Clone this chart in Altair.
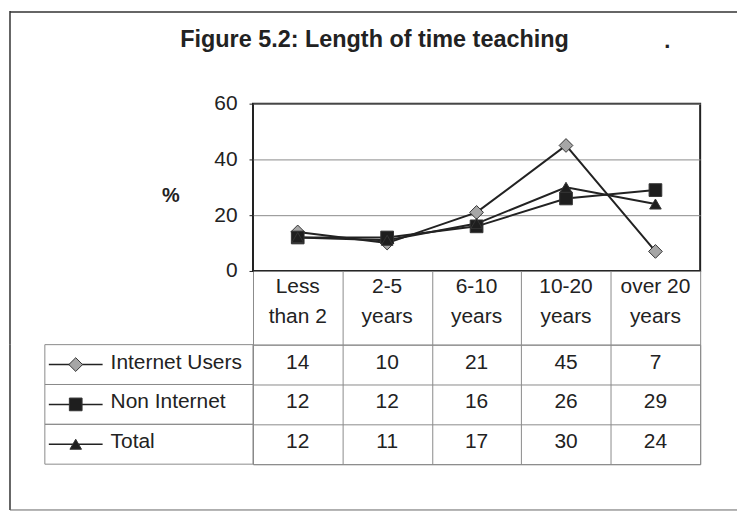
import altair as alt
import pandas as pd

# ---- data ----
header_line1 = ["Less", "2-5", "6-10", "10-20", "over 20"]
header_line2 = ["than 2", "years", "years", "years", "years"]
categories = [a + " " + b for a, b in zip(header_line1, header_line2)]
series = ["Internet Users", "Non Internet", "Total"]
internet_users = [14, 10, 21, 45, 7]
non_internet = [12, 12, 16, 26, 29]
total = [12, 11, 17, 30, 24]
y_ticks = [0, 20, 40, 60]
title_text = "Figure 5.2: Length of time teaching"

shapes = ["diamond", "square", "triangle-up"]
fills = ["#a6a6a6", "#1e1e1e", "#1e1e1e"]
sizes = [190, 135, 175]

rows = []
for s, vals in zip(series, [internet_users, non_internet, total]):
    for c, v in zip(categories, vals):
        rows.append({"series": s, "cat": c, "value": v})
df = pd.DataFrame(rows)
header_df = pd.DataFrame({"cat": categories, "l1": header_line1, "l2": header_line2})
series_df = pd.DataFrame({"series": series})
title_df = pd.DataFrame({"title": [title_text]})
one = pd.DataFrame({"k": [0]})

FONT = "Liberation Sans"
TXT = "#222222"
GRID = "#8a8a8a"
PW, PH = 449, 168

band = alt.Scale(type="band", paddingInner=0, paddingOuter=0)
shape_scale = alt.Scale(domain=series, range=shapes)
fill_scale = alt.Scale(domain=series, range=fills)
size_scale = alt.Scale(domain=series, range=sizes)

x_axis_top = alt.Axis(
    title=None, domain=False, grid=False, ticks=True, tickBand="extent",
    tickSize=74, tickColor=GRID, tickWidth=1, labels=False,
)
x_top = alt.X("cat:N", sort=categories, scale=band, bandPosition=0.5, axis=x_axis_top)
y_top = alt.Y(
    "value:Q", scale=alt.Scale(domain=[0, 60], nice=False),
    axis=alt.Axis(
        values=y_ticks, grid=True, gridColor=GRID, gridWidth=1,
        domain=False, tickSize=4, tickColor=TXT, tickWidth=1,
        labelFontSize=21, labelColor=TXT, labelFont=FONT, labelPadding=12,
        title="%", titleAngle=0, titleFontSize=20, titleFontWeight="bold",
        titleColor=TXT, titleFont=FONT, titleX=-83, titleY=92,
        titleAlign="center", titleBaseline="middle",
    ),
)

lines = alt.Chart(df).mark_line(stroke=TXT, strokeWidth=2).encode(
    x=x_top, y=y_top, detail="series:N"
)
points = alt.Chart(df).mark_point(filled=True, stroke="#333333", strokeWidth=1, opacity=1).encode(
    x=x_top, y=y_top,
    shape=alt.Shape("series:N", scale=shape_scale, legend=None),
    fill=alt.Fill("series:N", scale=fill_scale, legend=None),
    size=alt.Size("series:N", scale=size_scale, legend=None),
)
head1 = alt.Chart(header_df).mark_text(
    fontSize=21, font=FONT, color=TXT, baseline="middle"
).encode(x=x_top, y=alt.value(PH + 16), text="l1:N")
head2 = alt.Chart(header_df).mark_text(
    fontSize=21, font=FONT, color=TXT, baseline="middle"
).encode(x=x_top, y=alt.value(PH + 46), text="l2:N")

# figure title, stray dot and upper part of the outer frame
title_mark = alt.Chart(title_df).mark_text(
    font=FONT, fontSize=23.5, fontWeight="bold", color=TXT, align="center", baseline="middle"
).encode(x=alt.value(122), y=alt.value(-64), text="title:N")
stray_dot = alt.Chart(one).mark_text(
    text=".", fontSize=22, fontWeight="bold", font=FONT, color=TXT, baseline="alphabetic"
).encode(x=alt.value(416), y=alt.value(-56))
frame_left_top = alt.Chart(one).mark_rule(stroke="#333333", strokeWidth=1.5).encode(
    x=alt.value(-244), x2=alt.value(-244), y=alt.value(-93), y2=alt.value(242)
)
frame_top = alt.Chart(one).mark_rule(stroke="#333333", strokeWidth=1.5).encode(
    x=alt.value(-244), x2=alt.value(486), y=alt.value(-92), y2=alt.value(-92)
)

top = alt.layer(
    lines, points, head1, head2, title_mark, stray_dot, frame_left_top, frame_top
).properties(
    width=PW, height=PH,
    view=alt.ViewBackground(stroke=TXT, strokeWidth=2),
)

# ---- data table under the plot ----
y_axis_tbl = alt.Axis(
    grid=True, tickBand="extent", gridColor=GRID, gridWidth=1,
    labels=False, ticks=False, domain=False, title=None,
)
y_tbl = alt.Y("series:N", sort=series, scale=band, axis=y_axis_tbl)
y_tbl_c = alt.Y("series:N", sort=series, scale=band, axis=y_axis_tbl, bandPosition=0.5)
x_tbl = alt.X(
    "cat:N", sort=categories, scale=band, bandPosition=0.5,
    axis=alt.Axis(grid=True, tickBand="extent", gridColor=GRID, gridWidth=1,
                  labels=False, ticks=False, domain=False, title=None),
)

values_txt = alt.Chart(df).mark_text(
    fontSize=21, font=FONT, color=TXT, baseline="middle", dy=-2
).encode(x=x_tbl, y=y_tbl_c, text="value:Q")

legend_cells = alt.Chart(series_df).mark_rect(
    fill="transparent", stroke=GRID, strokeWidth=1
).encode(x=alt.value(-209), x2=alt.value(0), y=y_tbl)

legend_lines = alt.Chart(series_df).mark_rule(stroke=TXT, strokeWidth=1.5).encode(
    x=alt.value(-205), x2=alt.value(-151), y=y_tbl_c
)
legend_pts = alt.Chart(series_df).mark_point(
    filled=True, stroke="#333333", strokeWidth=1, opacity=1
).encode(
    x=alt.value(-178), y=y_tbl_c,
    shape=alt.Shape("series:N", scale=shape_scale, legend=None),
    fill=alt.Fill("series:N", scale=fill_scale, legend=None),
    size=alt.Size("series:N", scale=size_scale, legend=None),
)
legend_txt = alt.Chart(series_df).mark_text(
    align="left", baseline="middle", fontSize=21, font=FONT, color=TXT, dy=-2
).encode(x=alt.value(-143), y=y_tbl_c, text="series:N")

frame_left_bot = alt.Chart(one).mark_rule(stroke="#333333", strokeWidth=1.5).encode(
    x=alt.value(-244), x2=alt.value(-244), y=alt.value(0), y2=alt.value(166)
)
frame_bottom = alt.Chart(one).mark_rule(stroke="#666666", strokeWidth=1).encode(
    x=alt.value(-244), x2=alt.value(486), y=alt.value(166), y2=alt.value(166)
)

table = alt.layer(
    legend_cells, values_txt, legend_lines, legend_pts, legend_txt,
    frame_left_bot, frame_bottom,
).properties(
    width=PW, height=120,
    view=alt.ViewBackground(stroke=GRID, strokeWidth=1),
)

chart = alt.vconcat(top, table, spacing=74, bounds="flush").properties(
    padding={"left": 0, "top": 0, "right": 0, "bottom": 0}, background="white"
)

chart.save("out.html", embed_options={"renderer": "svg", "actions": False})
